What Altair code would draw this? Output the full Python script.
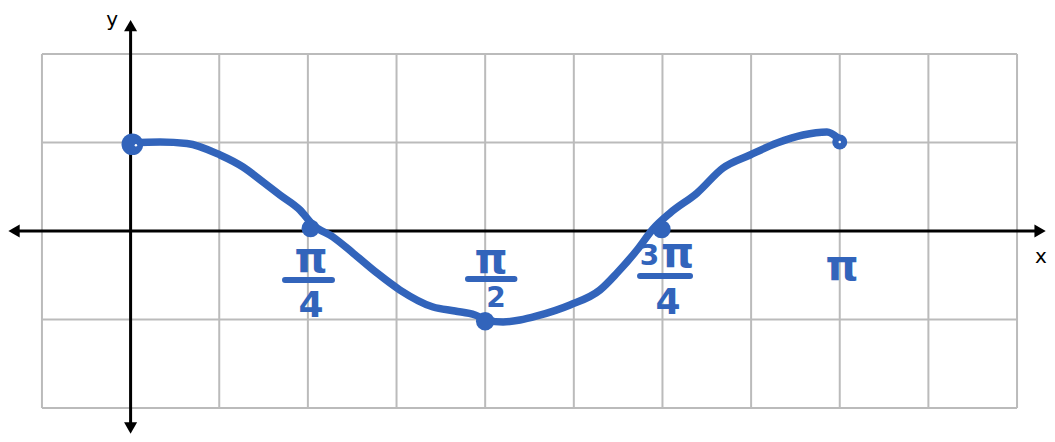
import altair as alt
import pandas as pd

# Hand-drawn curve (grid units: one x cell = pi/8, one y cell = 1)
curve_x = [0.0, 0.332, 0.636, 1.009, 1.268, 1.494, 1.685, 1.911, 2.057, 2.283, 2.509, 2.780,
           3.039, 3.412, 3.660, 3.886, 4.021, 4.202, 4.393, 4.585, 4.957, 5.295, 5.487, 5.713,
           5.893, 6.085, 6.390, 6.683, 6.988, 7.292, 7.585, 7.856, 7.980]
curve_y = [0.994, 1.006, 0.989, 0.859, 0.723, 0.554, 0.407, 0.237, 0.068, -0.068, -0.249, -0.475,
           -0.667, -0.859, -0.904, -0.949, -1.006, -1.028, -1.006, -0.960, -0.836, -0.667, -0.475, -0.215,
           0.023, 0.203, 0.429, 0.712, 0.859, 0.994, 1.085, 1.119, 1.051]

dot_x = [0.02, 2.03, 4.0, 5.99, 8.0]
dot_y = [0.98, 0.03, -1.02, 0.02, 1.005]
dot_size = [470, 320, 340, 330, 225]
hole_x = [0.06, 8.0]
hole_y = [0.97, 1.005]

grid_x = list(range(-1, 11))
grid_y = list(range(-2, 3))

# handwritten labels
pi_x = [2.035, 4.066, 6.17, 8.026]
pi_y = [-0.463, -0.475, -0.407, -0.554]
four_x = [2.035, 6.063]
four_y = [-0.972, -0.938]
small_text = ["2", "3"]
small_x = [4.122, 5.855]
small_y = [-0.859, -0.384]
bar_x = [1.742, 3.806, 5.747]
bar_x2 = [2.272, 4.330, 6.311]
bar_y = [-0.554, -0.542, -0.508]

BLUE = "#3264bb"
XD = [-1.383, 10.338]
YD = [-2.294, 2.520]
xs = alt.Scale(domain=XD, nice=False, zero=False)
ys = alt.Scale(domain=YD, nice=False, zero=False)


def X(f="x"):
    return alt.X(f"{f}:Q", scale=xs, axis=None)


def Y(f="y"):
    return alt.Y(f"{f}:Q", scale=ys, axis=None)


vgrid = alt.Chart(pd.DataFrame({"x": grid_x, "y": -2, "y2": 2})).mark_rule(
    color="#bbbbbb", strokeWidth=2).encode(x=X(), y=Y(), y2="y2:Q")
hgrid = alt.Chart(pd.DataFrame({"y": grid_y, "x": -1, "x2": 10})).mark_rule(
    color="#bbbbbb", strokeWidth=2).encode(y=Y(), x=X(), x2="x2:Q")

xaxis = alt.Chart(pd.DataFrame({"x": [-1.30], "x2": [10.22], "y": [0]})).mark_rule(
    color="black", strokeWidth=3).encode(x=X(), x2="x2:Q", y=Y())
yaxis = alt.Chart(pd.DataFrame({"y": [2.29], "y2": [-2.19], "x": [0]})).mark_rule(
    color="black", strokeWidth=3).encode(y=Y(), y2="y2:Q", x=X())

arrows = alt.Chart(pd.DataFrame({
    "x": [-1.315, 10.26, 0.0, 0.0],
    "y": [0.0, 0.0, 2.322, -2.226],
    "shape": ["triangle-left", "triangle-right", "triangle-up", "triangle-down"],
})).mark_point(filled=True, color="black", opacity=1, size=170).encode(
    x=X(), y=Y(), shape=alt.Shape("shape:N", scale=None))

axis_labels = alt.Chart(pd.DataFrame({"x": [10.27, -0.209], "y": [-0.362, 2.315], "t": ["x", "y"]})).mark_text(
    font="DejaVu Sans", fontSize=20, color="black", baseline="alphabetic").encode(x=X(), y=Y(), text="t:N")

curve = alt.Chart(pd.DataFrame({"x": curve_x, "y": curve_y, "i": range(len(curve_x))})).mark_line(
    color=BLUE, strokeWidth=7.5, strokeCap="round", strokeJoin="round", interpolate="monotone").encode(
    x=X(), y=Y(), order="i:Q")

dots = alt.Chart(pd.DataFrame({"x": dot_x, "y": dot_y, "s": dot_size})).mark_circle(
    color=BLUE, opacity=1).encode(x=X(), y=Y(), size=alt.Size("s:Q", scale=None))

holes = alt.Chart(pd.DataFrame({"x": hole_x, "y": hole_y})).mark_circle(
    color="white", opacity=1, size=6).encode(x=X(), y=Y())

pis = alt.Chart(pd.DataFrame({"x": pi_x, "y": pi_y, "t": "π"})).mark_text(
    font="DejaVu Sans", fontWeight="bold", fontSize=42, color=BLUE, baseline="alphabetic").encode(
    x=X(), y=Y(), text="t:N")

fours = alt.Chart(pd.DataFrame({"x": four_x, "y": four_y, "t": "4"})).mark_text(
    font="DejaVu Sans", fontWeight="bold", fontSize=36, color=BLUE, baseline="alphabetic").encode(
    x=X(), y=Y(), text="t:N")

smalls = alt.Chart(pd.DataFrame({"x": small_x, "y": small_y, "t": small_text})).mark_text(
    font="DejaVu Sans", fontWeight="bold", fontSize=28, color=BLUE, baseline="alphabetic").encode(
    x=X(), y=Y(), text="t:N")

bars = alt.Chart(pd.DataFrame({"x": bar_x, "x2": bar_x2, "y": bar_y})).mark_rule(
    color=BLUE, strokeWidth=6, strokeCap="round").encode(x=X(), x2="x2:Q", y=Y())

chart = alt.layer(vgrid, hgrid, xaxis, yaxis, arrows, axis_labels, curve, dots, holes,
                  pis, fours, smalls, bars).properties(
    width=1039, height=426, padding=0, autosize=alt.AutoSizeParams(type="none")
).configure_view(stroke=None)

chart.save("out.html", embed_options={"renderer": "svg", "actions": False})
